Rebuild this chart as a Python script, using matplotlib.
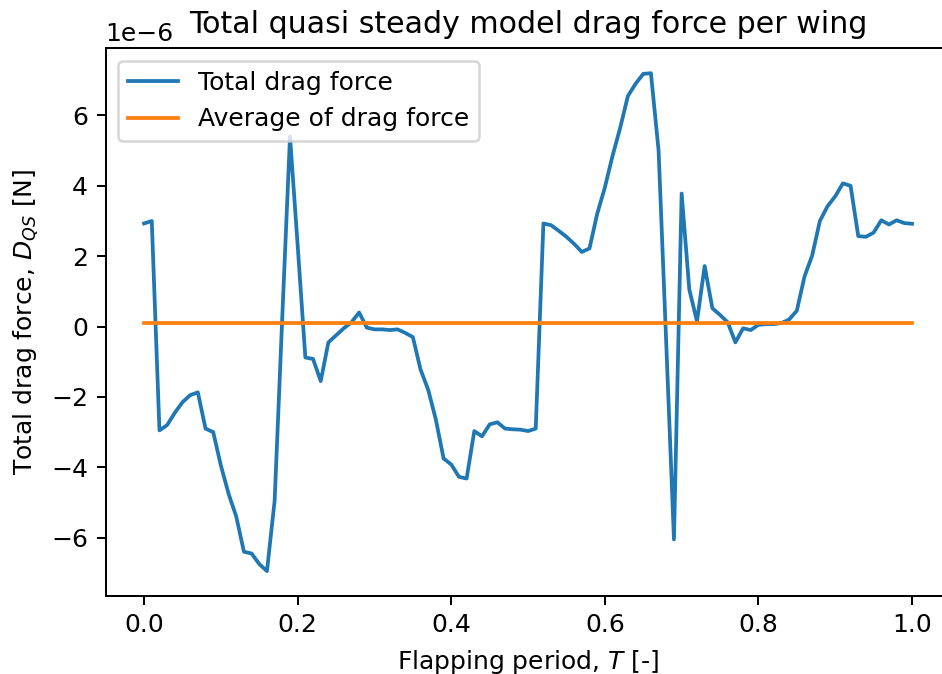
import numpy as np
import matplotlib
matplotlib.use("Agg")
import matplotlib.pyplot as plt

# flapping period grid (101 samples over one period)
period = np.linspace(0.0, 1.0, 101)

# total drag force per wing, in 1e-6 N
drag = np.array([
    2.93, 3.00, -2.95, -2.80, -2.45, -2.15, -1.95, -1.87, -2.90, -3.00,
    -3.95, -4.75, -5.40, -6.40, -6.45, -6.75, -6.95, -4.95, 0.30, 5.40,
    2.30, -0.88, -0.92, -1.55, -0.45, -0.25, -0.05, 0.12, 0.40, -0.03,
    -0.08, -0.08, -0.10, -0.08, -0.18, -0.30, -1.22, -1.80, -2.65, -3.75,
    -3.92, -4.27, -4.32, -2.97, -3.12, -2.78, -2.72, -2.90, -2.92, -2.93,
    -2.97, -2.90, 2.93, 2.88, 2.72, 2.55, 2.35, 2.12, 2.22, 3.20,
    3.95, 4.85, 5.65, 6.55, 6.90, 7.18, 7.20, 5.00, -0.50, -6.05,
    3.78, 1.05, 0.15, 1.72, 0.52, 0.33, 0.12, -0.45, -0.05, -0.10,
    0.05, 0.07, 0.07, 0.10, 0.20, 0.45, 1.42, 2.02, 3.00, 3.42,
    3.70, 4.07, 4.00, 2.57, 2.55, 2.67, 3.02, 2.90, 3.02, 2.94,
    2.92,
]) * 1e-6

drag_avg = 0.10e-6

dpi = 180
fig = plt.figure(figsize=(942 / dpi, 674 / dpi), dpi=dpi)
# the reference is cropped on the right, so the axes run past the edge
left_px, right_px, top_px, bottom_px = 105.7, 970.0, 48.3, 596.0
ax = fig.add_axes([left_px / 942, 1 - bottom_px / 674,
                   (right_px - left_px) / 942, (bottom_px - top_px) / 674])

ax.plot(period, drag, label='Total drag force')
ax.plot(period, np.full_like(period, drag_avg), label='Average of drag force')

# keep 0.0 -> 1.0 where the default 5% margins put them on the uncropped axes
full_right_px = 950.4
ax.set_xlim(-0.05, -0.05 + 1.1 * (right_px - left_px) / (full_right_px - left_px))

# centre texts on the uncropped axes width
mid = 0.5 * (full_right_px - left_px) / (right_px - left_px)
ax.set_title('Total quasi steady model drag force per wing', x=mid)
ax.set_xlabel('Flapping period, $T$ [-]', x=mid)
ax.set_ylabel('Total drag force, $D_{QS}$ [N]')
ax.legend(loc='upper left')

fig.savefig('out.png', dpi=dpi)
